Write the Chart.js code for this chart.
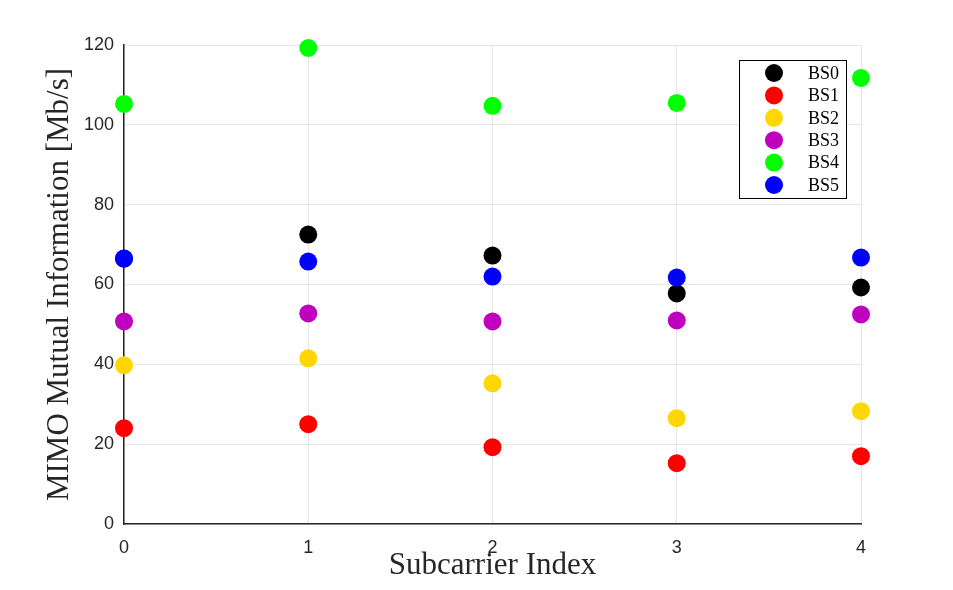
<!DOCTYPE html>
<html>
<head>
<meta charset="utf-8">
<script src="https://cdn.jsdelivr.net/npm/chart.js@4"></script>
<style>
  html, body { margin: 0; padding: 0; background: #fff; }
  #wrap { width: 953px; height: 590px; }
</style>
</head>
<body>
<div id="wrap"><canvas id="mimoChart" width="953" height="590"></canvas></div>
<script>
// Subcarrier indices and per-BS mutual information (Mb/s)
const subcarriers = [0, 1, 2, 3, 4];
const bsLabels = ["BS0", "BS1", "BS2", "BS3", "BS4", "BS5"];
const bs0 = [66.5, 72.5, 67.25, 57.75, 59.25];
const bs1 = [24, 25, 19.25, 15.25, 17];
const bs2 = [39.75, 41.5, 35.25, 26.5, 28.25];
const bs3 = [50.75, 52.75, 50.75, 51, 52.5];
const bs4 = [105.25, 119.25, 104.75, 105.5, 111.75];
const bs5 = [66.5, 65.75, 62, 61.75, 66.75];
const yTicks = [0, 20, 40, 60, 80, 100, 120];
const colors = ["#000000", "#ff0000", "#ffd700", "#bf00bf", "#00ff00", "#0000ff"];

const series = [bs0, bs1, bs2, bs3, bs4, bs5];

// 图例画在绘图区内部右上角
const boxLegend = {
  id: "boxLegend",
  afterDraw(chart) {
    const ctx = chart.ctx;
    const x0 = 739, y0 = 60, w = 107, h = 138;
    ctx.save();
    ctx.fillStyle = "#fff";
    ctx.fillRect(x0, y0, w, h);
    ctx.strokeStyle = "#000";
    ctx.lineWidth = 1;
    ctx.strokeRect(x0 + 0.5, y0 + 0.5, w, h);
    ctx.font = "18px 'Liberation Serif', serif";
    ctx.textBaseline = "middle";
    chart.data.datasets.forEach((ds, i) => {
      const cy = y0 + 13 + i * 22.4;
      ctx.beginPath();
      ctx.fillStyle = ds.backgroundColor;
      ctx.arc(x0 + 35, cy, 9, 0, Math.PI * 2);
      ctx.fill();
      ctx.fillStyle = "#000";
      ctx.fillText(ds.label, x0 + 69, cy + 1);
    });
    ctx.restore();
  }
};

new Chart(document.getElementById("mimoChart"), {
  type: "scatter",
  data: {
    datasets: series.map((vals, i) => ({
      label: bsLabels[i],
      data: subcarriers.map((x, j) => ({ x: x, y: vals[j] })),
      backgroundColor: colors[i],
      borderWidth: 0,
      pointRadius: 9,
      pointHoverRadius: 9,
      clip: false,
      order: series.length - i
    }))
  },
  options: {
    responsive: false,
    animation: false,
    devicePixelRatio: 1,
    layout: { padding: { left: 0, right: 92, top: 45, bottom: 0 } },
    plugins: { legend: { display: false }, tooltip: { enabled: false } },
    scales: {
      x: {
        type: "linear",
        min: 0,
        max: 4,
        afterFit: (s) => { s.height = 66; },
        afterBuildTicks: (s) => { s.ticks = subcarriers.map(v => ({ value: v })); },
        ticks: {
          font: { family: "'Liberation Sans', Arial, sans-serif", size: 18 },
          color: "#262626",
          padding: 13
        },
        grid: { color: "#e6e6e6", drawTicks: false },
        border: { color: "#262626", width: 1.5 },
        title: {
          display: true,
          text: "Subcarrier Index",
          font: { family: "'Liberation Serif', serif", size: 31 },
          color: "#262626",
          padding: { top: 0, bottom: 6 }
        }
      },
      y: {
        min: 0,
        max: 120,
        afterFit: (s) => { s.width = 124; },
        afterBuildTicks: (s) => { s.ticks = yTicks.map(v => ({ value: v })); },
        ticks: {
          font: { family: "'Liberation Sans', Arial, sans-serif", size: 18 },
          color: "#262626",
          padding: 10
        },
        grid: { color: "#e6e6e6", drawTicks: false },
        border: { color: "#262626", width: 1.5 },
        title: {
          display: true,
          text: "MIMO Mutual Information [Mb/s]",
          font: { family: "'Liberation Serif', serif", size: 31 },
          color: "#262626",
          padding: { top: 41, bottom: 0 }
        }
      }
    }
  },
  plugins: [boxLegend]
});
</script>
</body>
</html>
